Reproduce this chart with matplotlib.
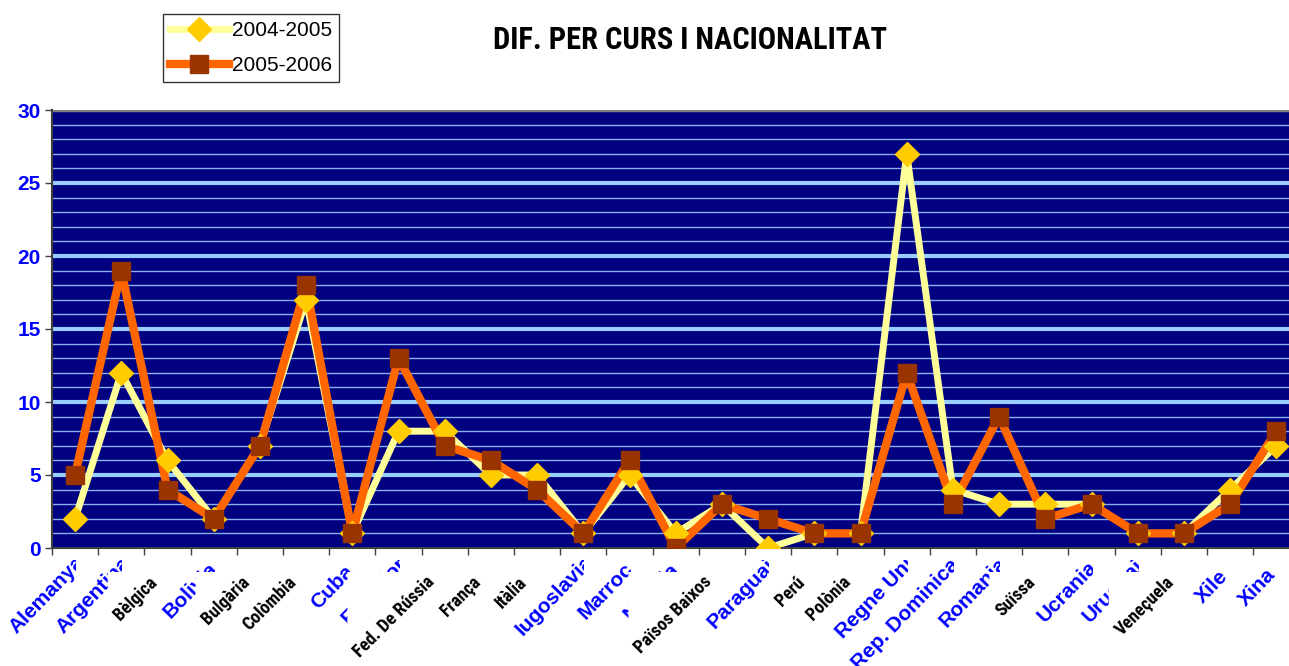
import matplotlib
matplotlib.use("Agg")
import matplotlib.pyplot as plt
from matplotlib import font_manager as fm
from matplotlib.ticker import MultipleLocator, FixedLocator
from matplotlib.patches import Polygon
from matplotlib.transforms import IdentityTransform, Bbox
from matplotlib.lines import Line2D

categories = ["Alemanya", "Argentina", "Bèlgica", "Bolivia", "Bulgària", "Colòmbia",
              "Cuba", "Equador", "Fed. De Rússia", "França", "Itàlia", "Iugoslavia",
              "Marroc", "Nigèria", "Països Baixos", "Paraguai", "Perú", "Polònia",
              "Regne Unit", "Rep. Dominicana", "Romania", "Suïssa", "Ucrania",
              "Uruguai", "Veneçuela", "Xile", "Xina"]
black_labels = ["Bèlgica", "Bulgària", "Colòmbia", "Fed. De Rússia", "França", "Itàlia",
                "Països Baixos", "Perú", "Polònia", "Suïssa", "Veneçuela"]
s2004 = [2, 12, 6, 2, 7, 17, 1, 8, 8, 5, 5, 1, 5, 1, 3, 0, 1, 1, 27, 4, 3, 3, 3, 1, 1, 4, 7]
s2005 = [5, 19, 4, 2, 7, 18, 1, 13, 7, 6, 4, 1, 6, 0, 3, 2, 1, 1, 12, 3, 9, 2, 3, 1, 1, 3, 8]
series_names = ["2004-2005", "2005-2006"]
title = "DIF. PER CURS I NACIONALITAT"


def pick(names):
    avail = {f.name for f in fm.fontManager.ttflist}
    for nm in names:
        if nm in avail:
            return nm
    return "DejaVu Sans"


narrow = pick(["Liberation Sans Narrow", "DejaVu Sans Condensed", "Roboto Condensed",
               "Open Sans Condensed", "Liberation Sans"])
arial = pick(["Liberation Sans", "Arial", "DejaVu Sans"])

W, H = 1289, 666
fig = plt.figure(figsize=(W / 100, H / 100), dpi=100)
n = len(categories)
step = 46.2
left, top, bottom = 52, 110, 548
ax = fig.add_axes([left / W, 1 - bottom / H, n * step / W, (bottom - top) / H])
ax.set_facecolor("#000080")

x = list(range(n))
ax.set_xlim(-0.5, n - 0.5)
ax.set_ylim(0, 30)

# grid
for yv in range(1, 30):
    if yv % 5 == 0:
        ax.axhline(yv, color="#99CCFF", lw=3, zorder=1)
    else:
        ax.axhline(yv, color="#8AB0F0", lw=1.0, zorder=1)
ax.axhline(30, color="#808080", lw=2.5, zorder=1)

# lines first, then markers
ax.plot(x, s2004, color="#FFFF99", lw=5, zorder=2, solid_joinstyle="round")
ax.plot(x, s2005, color="#FF6600", lw=6, zorder=3, solid_joinstyle="round")
ax.plot(x, s2004, ls="none", marker="D", ms=12, mfc="#FFCC00", mec="#FFCC00", zorder=4)
ax.plot(x, s2005, ls="none", marker="s", ms=13, mfc="#993300", mec="#993300", zorder=5)

for sp in ["top", "right"]:
    ax.spines[sp].set_visible(False)
for sp in ["left", "bottom"]:
    ax.spines[sp].set_color("#404040")
    ax.spines[sp].set_linewidth(1.5)

ax.yaxis.set_major_locator(MultipleLocator(5))
ax.tick_params(axis="y", length=5, width=1, color="#404040", labelsize=15,
               labelcolor="#0000FF", pad=3)
for t in ax.get_yticklabels():
    t.set_fontweight("bold")
    t.set_family(arial)

ax.set_xticks(x)
ax.set_xticklabels([])
ax.xaxis.set_minor_locator(FixedLocator([i - 0.5 for i in range(n + 1)]))
ax.tick_params(axis="x", which="major", length=0)
ax.tick_params(axis="x", which="minor", length=5, width=1, color="#404040")

# legend
h1 = Line2D([], [], color="#FFFF99", lw=5, marker="D", ms=12, mfc="#FFCC00", mec="#FFCC00")
h2 = Line2D([], [], color="#FF6600", lw=6, marker="s", ms=13, mfc="#993300", mec="#993300")
leg = fig.legend([h1, h2], series_names, loc="upper left",
                 bbox_to_anchor=(163 / W, 1 - 14 / H), frameon=True, fancybox=False,
                 prop={"family": arial, "size": 15}, handlelength=2.8, handletextpad=0.15,
                 borderpad=0.35, labelspacing=0.75, borderaxespad=0)
leg.get_frame().set_edgecolor("black")
leg.get_frame().set_linewidth(1)

fig.text(690 / W, 1 - 40 / H, title, ha="center", va="center",
         fontsize=22, fontweight="bold", family=narrow, color="black")

fig.canvas.draw()
renderer = fig.canvas.get_renderer()

# category labels, imitating the Excel rendering: blue labels overflow and are
# clipped at their slot, black labels paint a white area over their neighbours
black_texts = []
for i, name in enumerate(categories):
    if name in black_labels:
        a = ax.annotate(name, xy=(i, 0), xycoords=("data", "axes fraction"),
                        xytext=(-19, -25), textcoords="offset pixels", rotation=45,
                        ha="right", va="top", rotation_mode="anchor",
                        annotation_clip=False, zorder=31, color="black",
                        family=narrow, fontweight="bold", fontsize=13)
        black_texts.append(a)
    else:
        tmp = fig.text(0, 0, name, family=narrow, fontweight="bold", fontsize=13)
        w = tmp.get_window_extent(renderer).width
        tmp.remove()
        proj = w * 0.7071
        a = ax.annotate(name, xy=(i, 0), xycoords=("data", "axes fraction"),
                        xytext=(-proj - 8, -(proj + 36)), textcoords="offset pixels",
                        rotation=46, ha="left", va="baseline", rotation_mode="anchor",
                        annotation_clip=False, zorder=20, color="#0000FF",
                        family=arial, fontweight="bold", fontsize=15)
        cx = ax.transData.transform((i, 0))[0]
        a.set_clip_path(None)
        a.set_clip_box(Bbox([[0, 0], [cx + 1, H - 560]]))
        a.set_clip_on(True)

fig.canvas.draw()
hgt = 20.0
for a in black_texts:
    bb = a.get_window_extent(renderer)
    x0, x1 = bb.x0 - 3, bb.x1 + 1
    y0, y1 = bb.y0, bb.y1 + 1
    px = bb.x0 + hgt * 0.7071 + 3  # where the text's lower edge meets the bottom
    pts = [(x0, y0), (px, y0), (x1, y0 + (x1 - px)), (x1, y1), (x0, y1)]
    poly = Polygon(pts, closed=True, transform=IdentityTransform(), facecolor="white",
                   edgecolor="none", zorder=30, clip_on=False)
    ax.add_patch(poly)

fig.savefig("out.png", dpi=100)
